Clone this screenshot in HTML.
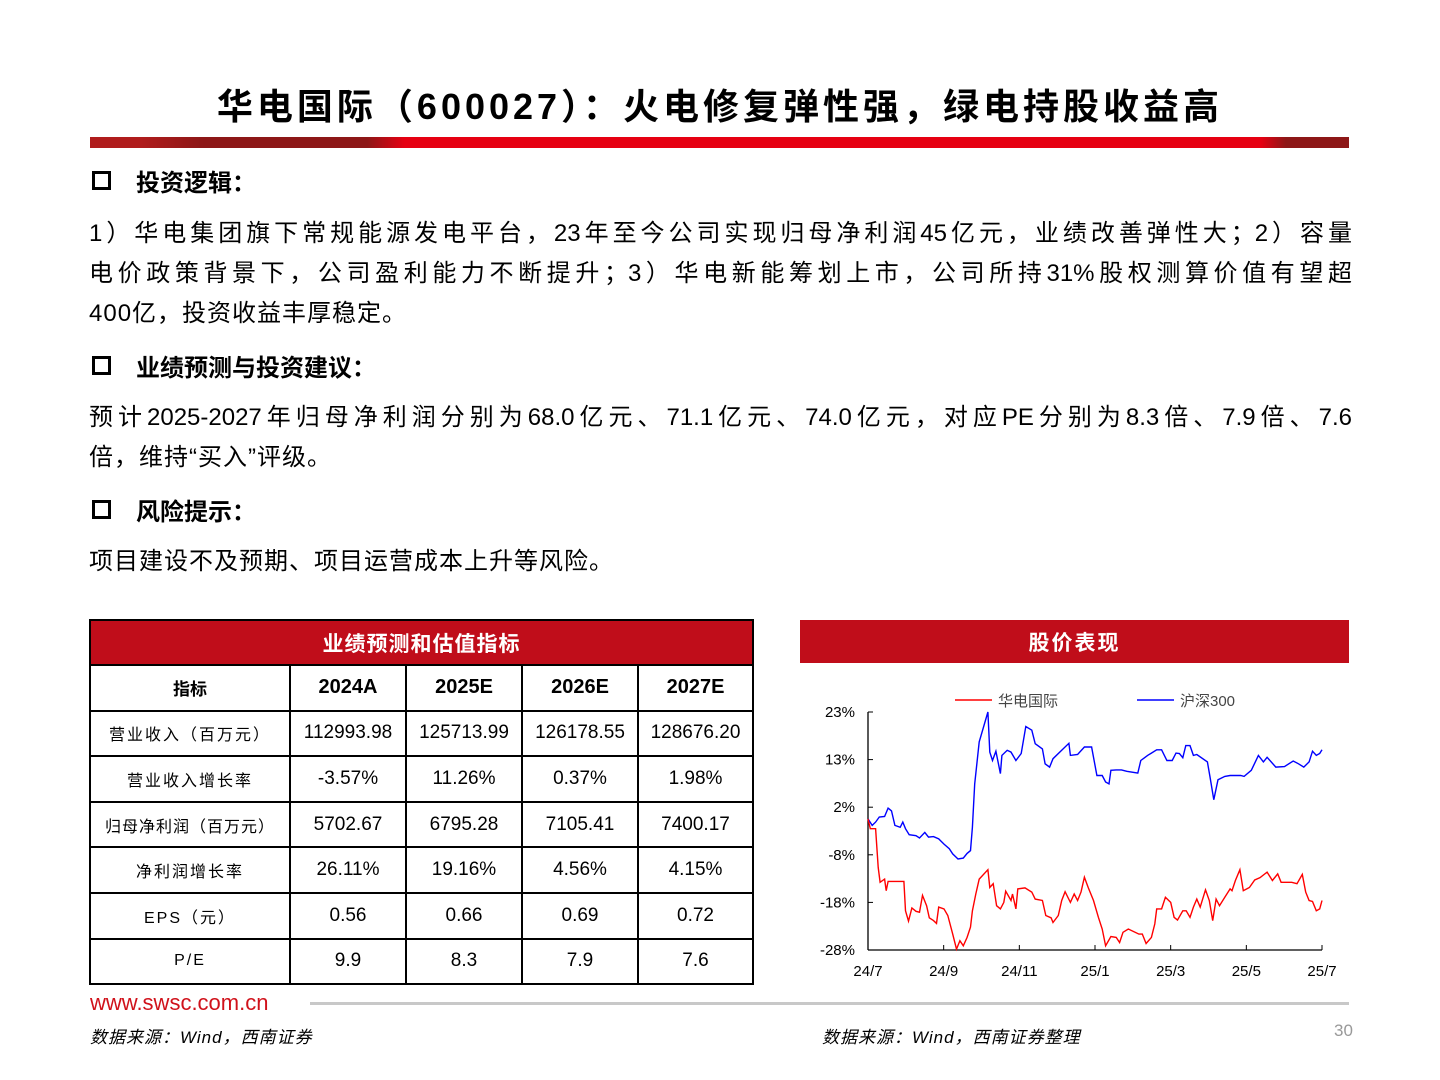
<!DOCTYPE html>
<html><head><meta charset="utf-8"><style>
*{margin:0;padding:0;box-sizing:border-box}
body{width:1440px;height:1080px;background:#fff;position:relative;overflow:hidden;font-family:"Liberation Sans","Noto Sans CJK SC",sans-serif;color:#000}
.abs{position:absolute}
.title{left:0;width:1440px;top:78px;text-align:center;font-size:36px;font-weight:bold;letter-spacing:4px}
.bar{left:90px;top:137px;width:1259px;height:11px;background:linear-gradient(90deg,#b01c1c 0,#b01c1c 4%,#8d1717 9%,#8d1717 22%,#e60012 25%,#e60012 93%,#8d1717 95%,#8d1717 100%)}
.h{left:92px;font-size:24px;font-weight:bold;display:flex;align-items:center}
.h .box{width:19px;height:19px;border:3px solid #000;margin-right:25px}
.line{left:89px;width:1263px;font-size:24px;text-align:justify;text-align-last:justify;white-space:nowrap;line-height:30px}
.last{text-align-last:left;letter-spacing:1px}
table{border-collapse:collapse;position:absolute;left:89px;top:619px;width:665px}
td{border:2px solid #000;text-align:center;font-size:19px;height:45.6px;padding:0}
td.lab{font-size:16px;letter-spacing:2px}
th{background:#c00d1a;color:#fff;font-size:21px;height:45px;border:2px solid #000;letter-spacing:1px}
.yr{font-weight:bold;font-size:20px}
</style></head><body>
<div class="abs title">华电国际（600027）：火电修复弹性强，绿电持股收益高</div>
<div class="abs bar"></div>

<div class="abs h" style="top:163px"><span class="box"></span>投资逻辑：</div>
<div class="abs line" style="top:219px">1）华电集团旗下常规能源发电平台，23年至今公司实现归母净利润45亿元，业绩改善弹性大；2）容量</div>
<div class="abs line" style="top:259px">电价政策背景下，公司盈利能力不断提升；3）华电新能筹划上市，公司所持31%股权测算价值有望超</div>
<div class="abs line last" style="top:299px">400亿，投资收益丰厚稳定。</div>

<div class="abs h" style="top:348px"><span class="box"></span>业绩预测与投资建议：</div>
<div class="abs line" style="top:403px">预计2025-2027年归母净利润分别为68.0亿元、71.1亿元、74.0亿元，对应PE分别为8.3倍、7.9倍、7.6</div>
<div class="abs line last" style="top:443px">倍，维持“买入”评级。</div>

<div class="abs h" style="top:492px"><span class="box"></span>风险提示：</div>
<div class="abs line last" style="top:547px">项目建设不及预期、项目运营成本上升等风险。</div>

<table>
<tr><th colspan="5">业绩预测和估值指标</th></tr>
<tr><td style="width:200px;font-weight:bold;font-size:17px">指标</td><td class="yr" style="width:116px">2024A</td><td class="yr" style="width:116px">2025E</td><td class="yr" style="width:116px">2026E</td><td class="yr">2027E</td></tr>
<tr><td class="lab">营业收入（百万元）</td><td>112993.98</td><td>125713.99</td><td>126178.55</td><td>128676.20</td></tr>
<tr><td class="lab">营业收入增长率</td><td>-3.57%</td><td>11.26%</td><td>0.37%</td><td>1.98%</td></tr>
<tr><td class="lab" style="letter-spacing:1px">归母净利润（百万元）</td><td>5702.67</td><td>6795.28</td><td>7105.41</td><td>7400.17</td></tr>
<tr><td class="lab">净利润增长率</td><td>26.11%</td><td>19.16%</td><td>4.56%</td><td>4.15%</td></tr>
<tr><td class="lab">EPS（元）</td><td>0.56</td><td>0.66</td><td>0.69</td><td>0.72</td></tr>
<tr><td class="lab">P/E</td><td>9.9</td><td>8.3</td><td>7.9</td><td>7.6</td></tr>
</table>

<div class="abs" style="left:800px;top:620px;width:549px;height:43px;background:#c00d1a;color:#fff;font-size:21px;font-weight:bold;text-align:center;line-height:48px;letter-spacing:2px">股价表现</div>

<svg class="abs" style="left:800px;top:680px" width="560" height="310" id="chart"></svg>

<div class="abs" style="left:90px;top:990px;font-size:22px;color:#d0121b">www.swsc.com.cn</div>
<div class="abs" style="left:310px;top:1002px;width:1039px;height:3px;background:#c8c8c8"></div>
<div class="abs" style="left:90px;top:1023px;font-size:17px;font-style:italic;letter-spacing:1px">数据来源：Wind，西南证券</div>
<div class="abs" style="left:822px;top:1023px;font-size:17px;font-style:italic;letter-spacing:1px">数据来源：Wind，西南证券整理</div>
<div class="abs" style="left:1334px;top:1021px;font-size:17px;color:#999">30</div>

<script>
const xTickLabels=["24/7","24/9","24/11","25/1","25/3","25/5","25/7"];
const yTickLabels=["-28%","-18%","-8%","2%","13%","23%"];
const blueMonths=[0,0.11,0.2,0.3,0.44,0.53,0.62,0.71,0.85,0.92,0.99,1.09,1.27,1.36,1.5,1.6,1.73,1.87,2.01,2.15,2.24,2.38,2.52,2.62,2.71,2.76,2.82,2.94,3.17,3.22,3.29,3.38,3.5,3.54,3.68,3.78,3.91,4.05,4.17,4.33,4.42,4.61,4.68,4.8,4.89,5.12,5.31,5.35,5.54,5.72,5.91,6.05,6.19,6.28,6.37,6.42,6.56,6.7,6.84,7.13,7.21,7.39,7.49,7.63,7.76,7.9,8.04,8.14,8.23,8.32,8.4,8.51,8.6,8.69,8.97,9.04,9.14,9.25,9.43,9.57,9.85,9.94,10.13,10.18,10.32,10.45,10.55,10.78,11.01,11.24,11.38,11.52,11.66,11.75,11.85,11.94,12];
const blueValues=[0.1,-1.3,-0.6,0.5,0.6,2.4,1.8,-1.3,-1.7,-0.6,-2.0,-3.3,-3.5,-4.0,-2.8,-3.8,-3.7,-4.2,-5.3,-6.3,-7.4,-8.5,-8.3,-7.3,-6.7,-1.7,7.6,16.6,23.0,14.4,12.6,14.6,9.8,13.7,14.8,14.4,12.6,14.1,19.9,19.1,16.2,15.1,11.9,11.2,13.0,14.8,16.3,13.7,13.9,15.5,15.5,9.4,9.4,8.0,7.6,10.5,10.6,10.6,10.3,9.9,12.6,13.7,14.2,14.9,14.9,12.6,12.6,14.2,14.1,13.2,15.8,15.8,13.7,13.9,12.3,9.1,4.2,8.5,9.2,9.4,9.4,9.2,10.5,11.3,13.7,12.3,13.3,11.2,11.3,12.5,11.9,11.2,12.3,14.6,13.7,14.1,14.9];
const redMonths=[0,0.06,0.2,0.27,0.32,0.44,0.48,0.53,0.95,0.99,1.07,1.16,1.27,1.36,1.44,1.55,1.62,1.73,1.81,1.87,2.01,2.11,2.24,2.34,2.43,2.52,2.62,2.71,2.76,2.85,2.94,3.17,3.22,3.31,3.4,3.5,3.59,3.64,3.78,3.82,3.91,3.96,4.15,4.33,4.42,4.61,4.7,4.84,4.89,5.03,5.12,5.21,5.35,5.45,5.54,5.63,5.72,5.82,5.96,6.09,6.19,6.28,6.42,6.56,6.65,6.74,6.88,7.16,7.25,7.35,7.49,7.58,7.63,7.76,7.86,8.0,8.09,8.18,8.32,8.41,8.51,8.6,8.69,8.78,8.92,9.02,9.11,9.2,9.29,9.43,9.57,9.62,9.71,9.83,9.92,10.08,10.22,10.36,10.55,10.69,10.83,10.92,11.2,11.34,11.48,11.57,11.66,11.75,11.85,11.94,12];
const redValues=[0.1,-2.0,-2.0,-10.3,-13.5,-12.8,-15.3,-13.3,-13.3,-19.6,-21.8,-19.0,-19.7,-19.9,-16.3,-18.5,-21.1,-21.7,-22.3,-18.8,-19.2,-20.6,-24.6,-27.8,-26.0,-27.1,-25.3,-23.1,-19.6,-16.0,-12.8,-10.8,-14.6,-13.8,-18.5,-19.2,-17.8,-15.4,-17.4,-16.0,-19.2,-14.9,-14.7,-15.6,-17.1,-17.4,-20.6,-21.1,-22.1,-20.6,-17.4,-15.5,-17.8,-16.0,-17.4,-15.6,-12.4,-14.6,-17.4,-21.0,-23.5,-27.1,-25.1,-25.3,-26.4,-24.2,-23.5,-24.6,-24.6,-26.6,-25.3,-22.4,-19.2,-19.2,-16.7,-17.8,-21.0,-21.6,-19.6,-19.6,-21.0,-18.8,-17.1,-18.8,-15.1,-17.4,-21.7,-17.1,-18.5,-16.7,-14.9,-15.3,-13.1,-10.8,-15.3,-14.6,-13.0,-12.5,-11.3,-13.1,-11.7,-13.5,-13.5,-13.8,-11.8,-15.6,-17.4,-17.6,-19.6,-19.2,-17.4];

const NS='http://www.w3.org/2000/svg';
const svg=document.getElementById('chart');
const X0=68,X1=522,Y0=270,Y1=32,VMIN=-28,VMAX=23,MMAX=12;
const xs=m=>X0+m/MMAX*(X1-X0);
const ys=v=>Y0-(v-VMIN)/(VMAX-VMIN)*(Y0-Y1);
function mk(t,a){const e=document.createElementNS(NS,t);for(const k in a)e.setAttribute(k,a[k]);svg.appendChild(e);return e;}
let e;
e=mk('line',{x1:X0,y1:Y1,x2:X0,y2:Y0,stroke:'#000','stroke-width':1.3});


e=mk('line',{x1:X0,y1:Y0,x2:X1,y2:Y0,stroke:'#000','stroke-width':1.3});


yTickLabels.forEach((l,i)=>{
  const y=Y0-i*(Y0-Y1)/(yTickLabels.length-1);
  mk('line',{x1:X0,y1:y,x2:X0+5,y2:y,stroke:'#000'});
  e=mk('text',{x:X0-13,y:y+5,'text-anchor':'end','font-size':15,'font-family':'Liberation Sans, sans-serif'});
  e.textContent=l;
  
  
});
xTickLabels.forEach((l,i)=>{
  const x=xs(i*2);
  mk('line',{x1:x,y1:Y0,x2:x,y2:Y0-5,stroke:'#000'});
  e=mk('text',{x:x,y:Y0+26,'text-anchor':'middle','font-size':15,'font-family':'Liberation Sans, sans-serif'});
  e.textContent=l;
  
  
});
function series(ms,vs,c,name){
  const d=ms.map((m,i)=>(i?'L':'M')+xs(m).toFixed(1)+','+ys(vs[i]).toFixed(1)).join('');
  const p=mk('path',{d:d,fill:'none',stroke:c,'stroke-width':1.4});
  
  
}
series(blueMonths,blueValues,'#0000ff','csi300-line');
series(redMonths,redValues,'#ff0000','huadian-line');
mk('line',{x1:155,y1:20,x2:192,y2:20,stroke:'#ff0000','stroke-width':1.5});
e=mk('text',{x:198,y:26,'font-size':15,fill:'#444','font-family':'Liberation Sans, Noto Sans CJK SC, sans-serif'});
e.textContent='华电国际';


mk('line',{x1:337,y1:20,x2:374,y2:20,stroke:'#0000ff','stroke-width':1.5});
e=mk('text',{x:380,y:26,'font-size':15,fill:'#444','font-family':'Liberation Sans, Noto Sans CJK SC, sans-serif'});
e.textContent='沪深300';


</script>
</body></html>
